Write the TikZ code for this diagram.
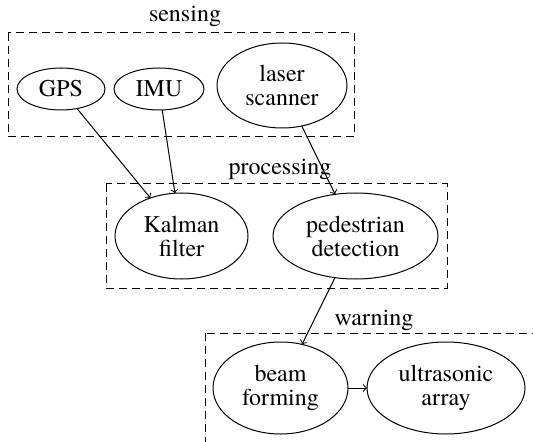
\documentclass[tikz,border=0pt]{standalone}
\usepackage{fontspec}
\setmainfont{texgyretermes}[Extension=.otf, UprightFont=*-regular, BoldFont=*-bold, ItalicFont=*-italic, BoldItalicFont=*-bolditalic]
\usetikzlibrary{shapes.geometric}

\begin{document}
\begin{tikzpicture}[x=0.5pt, y=-0.5pt,
    every node/.style={font=\fontsize{12}{12}\selectfont, align=center},
    unit/.style={ellipse, draw, inner sep=0pt, outer sep=0pt, line width=0.5pt},
    group/.style={draw, dash pattern=on 4pt off 2.5pt, line width=0.5pt},
    grouplabel/.style={anchor=base, inner sep=0pt},
    flow/.style={->, line width=0.5pt}]
  \useasboundingbox (0,0) rectangle (533,442);
  \clip (0,0) rectangle (533,442);
  % clusters
  \draw[group] (8,33) rectangle (354,137);
  \draw[group] (106,184) rectangle (447,288);
  \draw[group] (205,333) rectangle (570,480);
  \node[grouplabel] (sensing) at (185,22) {sensing};
  \node[grouplabel] (processing) at (280,175) {processing};
  \node[grouplabel] (warning) at (374,325) {warning};
  % sensing
  \node[unit, minimum width=44pt, minimum height=21pt] (gps) at (61,89) {GPS};
  \node[unit, minimum width=45pt, minimum height=21pt] (imu) at (159,89) {IMU};
  \node[unit, minimum width=65pt, minimum height=42.5pt] (laser) at (282,85.5) {laser\\scanner};
  % processing
  \node[unit, minimum width=66.5pt, minimum height=43pt] (kalman) at (181.5,236) {Kalman\\filter};
  \node[unit, minimum width=82.5pt, minimum height=43pt] (pedestrian) at (355.5,236) {pedestrian\\detection};
  % warning
  \node[unit, minimum width=67.5pt, minimum height=46pt] (beam) at (280.5,388) {beam\\forming};
  \node[unit, minimum width=79pt, minimum height=46pt] (ultrasonic) at (446,388) {ultrasonic\\array};
  % connections
  \draw[flow] (gps) -- (kalman);
  \draw[flow] (imu) -- (kalman);
  \draw[flow] (laser) -- (pedestrian);
  \draw[flow] (pedestrian) -- (beam);
  \draw[flow] (beam) -- (ultrasonic);
\end{tikzpicture}
\end{document}
